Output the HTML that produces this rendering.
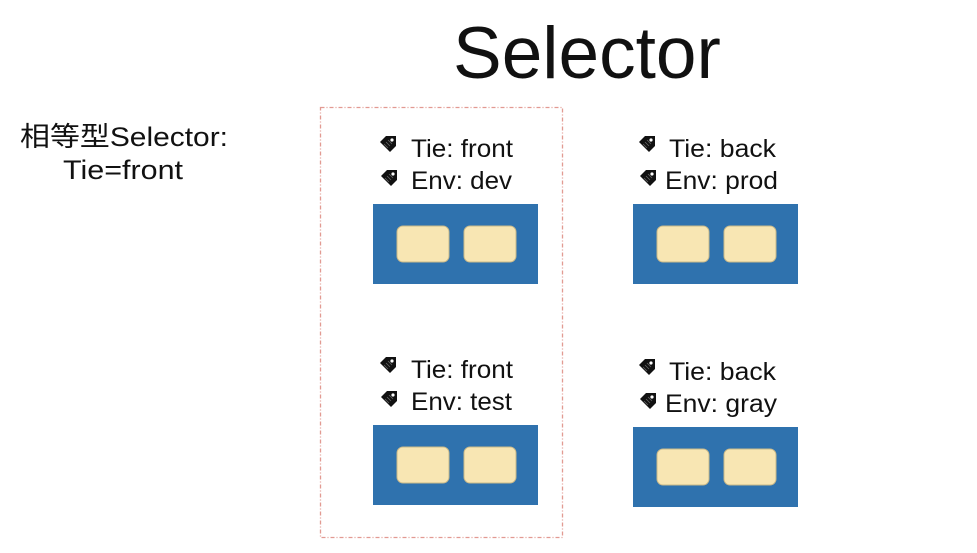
<!DOCTYPE html>
<html><head><meta charset="utf-8"><style>
html,body{margin:0;padding:0;background:#fff;}
svg{display:block}
text{font-family:"Liberation Sans","Noto Sans CJK SC",sans-serif;fill:#111}
</style></head><body>
<svg width="977" height="553" viewBox="0 0 977 553" xmlns="http://www.w3.org/2000/svg">
<defs>
<g id="tag"><path d="M0,6 L6,0 L16,0 L16,10 L10,16 Z" fill="#111"/><circle cx="12" cy="4" r="1.6" fill="#fff"/><path d="M4,8 l4,4 M6,6 l4,4 M8,4 l4,4" stroke="#666" stroke-width="0.8"/></g>
<g id="node">
<rect x="0" y="0" width="165" height="80" fill="#2f72ae"/>
<rect x="24" y="22" width="52" height="36" rx="6" fill="#f8e6b3" stroke="#c9b98a" stroke-width="1"/>
<rect x="91" y="22" width="52" height="36" rx="6" fill="#f8e6b3" stroke="#c9b98a" stroke-width="1"/>
</g>
</defs>
<text x="453" y="78" font-size="73">Selector</text>
<text x="20" y="146" font-size="27" fill="#333" textLength="208" lengthAdjust="spacingAndGlyphs">相等型Selector:</text>
<text x="63" y="179" font-size="27" fill="#333" textLength="120" lengthAdjust="spacingAndGlyphs">Tie=front</text>
<rect x="320.5" y="107.5" width="242" height="430" fill="none" stroke="#e29a92" stroke-width="1.3" stroke-dasharray="4,2,1,2"/>

<use href="#tag" x="380" y="136"/><text x="411" y="157" font-size="25" textLength="102" lengthAdjust="spacingAndGlyphs">Tie: front</text>
<use href="#tag" x="381" y="170"/><text x="411" y="189" font-size="25" textLength="101" lengthAdjust="spacingAndGlyphs">Env: dev</text>
<use href="#node" x="373" y="204"/>

<use href="#tag" x="639" y="136"/><text x="669" y="157" font-size="25" textLength="107" lengthAdjust="spacingAndGlyphs">Tie: back</text>
<use href="#tag" x="640" y="170"/><text x="665" y="189" font-size="25" textLength="113" lengthAdjust="spacingAndGlyphs">Env: prod</text>
<use href="#node" x="633" y="204"/>

<use href="#tag" x="380" y="357"/><text x="411" y="378" font-size="25" textLength="102" lengthAdjust="spacingAndGlyphs">Tie: front</text>
<use href="#tag" x="381" y="391"/><text x="411" y="410" font-size="25" textLength="101" lengthAdjust="spacingAndGlyphs">Env: test</text>
<use href="#node" x="373" y="425"/>

<use href="#tag" x="639" y="359"/><text x="669" y="380" font-size="25" textLength="107" lengthAdjust="spacingAndGlyphs">Tie: back</text>
<use href="#tag" x="640" y="393"/><text x="665" y="412" font-size="25" textLength="112" lengthAdjust="spacingAndGlyphs">Env: gray</text>
<use href="#node" x="633" y="427"/>
</svg>
</body></html>
